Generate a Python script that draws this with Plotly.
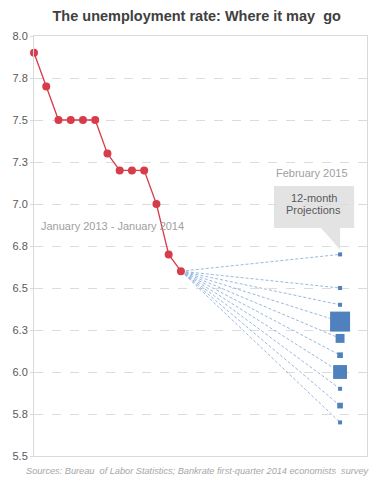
import plotly.graph_objects as go

# Monthly unemployment rate, January 2013 - January 2014 (month index 0..12)
actual_months = list(range(13))
actual_rate = [7.9, 7.7, 7.5, 7.5, 7.5, 7.5, 7.3, 7.2, 7.2, 7.2, 7.0, 6.7, 6.6]

# 12-month projections for February 2015 (month index 25)
projection_month = 25
projection_rate = [6.7, 6.5, 6.4, 6.3, 6.2, 6.1, 6.0, 5.9, 5.8, 5.7]
projection_count = [1, 1, 1, 25, 5, 2, 12, 1, 2, 1]

y_tick_values = [5.5, 5.75, 6.0, 6.25, 6.5, 6.75, 7.0, 7.25, 7.5, 7.75, 8.0]
y_tick_labels = ["5.5", "5.8", "6.0", "6.3", "6.5", "6.8", "7.0", "7.3", "7.5", "7.8", "8.0"]

FONT = "Liberation Sans, Arial, sans-serif"
RED = "#d63c4a"
BLUE = "#4f81bd"
DASH_BLUE = "#9bb8e0"

fig = go.Figure()

# dashed fan lines from the last actual point to each projection
x0, y0 = actual_months[-1], actual_rate[-1]
for r in projection_rate:
    fig.add_trace(go.Scatter(
        x=[x0, projection_month], y=[y0, r], mode="lines",
        line=dict(color=DASH_BLUE, width=1, dash="3px,2px"),
        hoverinfo="skip", showlegend=False, cliponaxis=False))

fig.add_trace(go.Scatter(
    x=actual_months, y=actual_rate, mode="lines+markers",
    line=dict(color=RED, width=1.3),
    marker=dict(color=RED, size=8, symbol="circle"),
    showlegend=False, cliponaxis=False))

fig.add_trace(go.Scatter(
    x=[projection_month] * len(projection_rate), y=projection_rate, mode="markers",
    marker=dict(color=BLUE, symbol="square", size=projection_count, opacity=1,
                sizemode="area", sizeref=1 / 8, sizemin=1.5, line=dict(width=0)),
    showlegend=False, cliponaxis=False))

# callout box with pointer
fig.add_shape(type="path",
              path="M 19.6 7.107 L 26.15 7.107 L 26.15 6.857 L 25.0 6.857 L 25.0 6.728 L 23.45 6.857 L 19.6 6.857 Z",
              fillcolor="#e3e3e3", line=dict(width=0), layer="below")

fig.add_annotation(x=22.87, y=7.034, text="12-month", showarrow=False,
                   font=dict(family=FONT, size=11, color="#595959"), xanchor="center", yanchor="middle")
fig.add_annotation(x=22.87, y=6.964, text="Projections", showarrow=False,
                   font=dict(family=FONT, size=11, color="#595959"), xanchor="center", yanchor="middle")
fig.add_annotation(x=22.7, y=7.185, text="February 2015", showarrow=False,
                   font=dict(family=FONT, size=11, color="#a0a0a0"), xanchor="center", yanchor="middle")
fig.add_annotation(x=6.39, y=6.869, text="January 2013 - January 2014", showarrow=False,
                   font=dict(family=FONT, size=11, color="#a0a0a0"), xanchor="center", yanchor="middle")

fig.add_annotation(xref="paper", yref="paper", x=1.016, y=-0.036, xanchor="right", yanchor="middle",
                   text="<i>Sources: Bureau  of Labor Statistics; Bankrate first-quarter 2014 economists  survey</i>",
                   showarrow=False, font=dict(family=FONT, size=9.2, color="#a6a6a6"))

fig.update_layout(
    width=379, height=487,
    margin=dict(l=34, r=12, t=36, b=31),
    paper_bgcolor="white", plot_bgcolor="white",
    title=dict(text="<b>The unemployment rate: Where it may  go</b>", x=0.519, xanchor="center",
               y=0.967, yanchor="middle", font=dict(family=FONT, size=14.5, color="#404040")),
    xaxis=dict(range=[0, 27.2], showgrid=False, zeroline=False, showticklabels=False,
               showline=True, mirror=True, linecolor="#d9d9d9", linewidth=1, ticks=""),
    yaxis=dict(range=[5.5, 8.0], tickvals=y_tick_values, ticktext=y_tick_labels,
               showgrid=True, gridcolor="#dcdcdc", griddash="dash", gridwidth=1,
               zeroline=False, showline=True, mirror=True, linecolor="#d9d9d9", linewidth=1,
               ticks="outside", ticklen=3, tickcolor="#d9d9d9",
               tickfont=dict(family=FONT, size=11, color="#595959")),
)

fig.write_html("out.html", config={"displayModeBar": False},
               post_script="document.body.style.margin='0';")
